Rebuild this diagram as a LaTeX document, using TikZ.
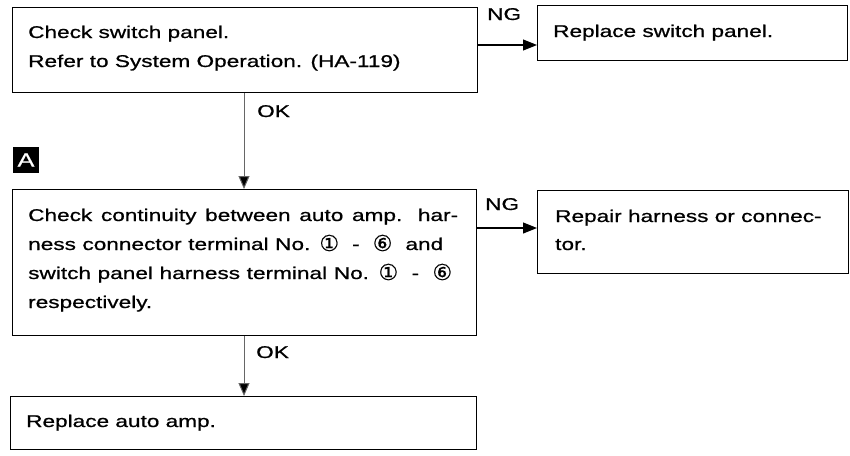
\documentclass[tikz,border=0pt]{standalone}
\usepackage{fontspec}
\setmainfont{Liberation Sans}[FakeStretch=1.33, RawFeature={embolden=0.8}]
\newfontfamily\symfont{DejaVu Sans}[RawFeature={embolden=0.5}]
\usetikzlibrary{arrows.meta}
\newcommand{\cnum}[1]{\raisebox{-1pt}{\symfont\fontsize{22}{22}\selectfont #1}}
\tikzset{
  box/.style={draw=black, line width=1.3pt, rectangle, inner sep=0pt, anchor=north west},
  txt/.style={anchor=base west, inner sep=0pt, font=\fontsize{17}{29}\selectfont},
  arr/.style={line width=1.1pt, -{Triangle[length=14pt,width=11pt]}},
  varr/.style={draw=black!60, line width=1pt, -{Triangle[length=13pt,width=11pt,fill=black]}},
}
\begin{document}
\begin{tikzpicture}[x=1pt,y=-1pt]
\useasboundingbox (0,0) rectangle (850,455);
% boxes
\node[box, minimum width=465pt, minimum height=85pt] (b1) at (12,7) {};
\node[box, minimum width=310pt, minimum height=55pt] (b2) at (537,5) {};
\node[box, minimum width=464pt, minimum height=146pt] (b3) at (12,189) {};
\node[box, minimum width=311pt, minimum height=83pt] (b4) at (537,190) {};
\node[box, minimum width=466pt, minimum height=53pt] (b5) at (10,396) {};
% marker A
\node[fill=black, text=white, minimum size=26pt, inner sep=0pt, font=\fontsize{19}{19}\selectfont] (mA) at (26,160) {A};
% texts
\node[txt] (t1a) at (28,38) {Check switch panel.};
\node[txt] (t1b) at (28,67) {Refer to System Operation. (HA-119)};
\node[txt] (t2) at (553,37) {Replace switch panel.};
\node[txt] (t3a) at (28,221) {\makebox[430pt][s]{Check continuity between auto amp. har-}};
\node[txt] (t3b) at (28,250) {\makebox[415pt][s]{ness connector terminal No. \cnum{①} \ - \ \cnum{⑥} \ and}};
\node[txt] (t3c) at (28,279) {\makebox[424pt][s]{switch panel harness terminal No. \cnum{①} \ - \ \cnum{⑥}}};
\node[txt] (t3d) at (28,308) {respectively.};
\node[txt] (t4a) at (555,222) {Repair harness or connec-};
\node[txt] (t4b) at (555,250) {tor.};
\node[txt] (t5) at (26,427) {Replace auto amp.};
% labels
\node[txt] (ok1) at (257,117) {OK};
\node[txt] (ok2) at (256,358) {OK};
\node[txt] (ng1) at (487,20) {NG};
\node[txt] (ng2) at (485,210) {NG};
% connectors
\coordinate (v1) at (244,0);
\coordinate (h1) at (0,45);
\coordinate (h2) at (0,228);
\draw[varr] (b1.south -| v1) -- (b3.north -| v1);
\draw[varr] (b3.south -| v1) -- (b5.north -| v1);
\draw[arr] (b1.east |- h1) -- (b2.west |- h1);
\draw[arr] (b3.east |- h2) -- (b4.west |- h2);
\end{tikzpicture}
\end{document}
